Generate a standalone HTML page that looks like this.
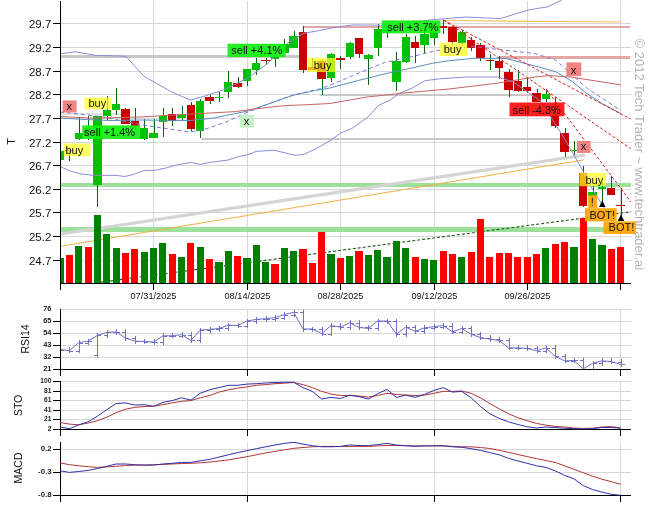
<!DOCTYPE html>
<html><head><meta charset="utf-8"><title>Chart</title>
<style>html,body{margin:0;padding:0;background:#fff;} svg{display:block;}</style></head>
<body><svg width="657" height="514" viewBox="0 0 657 514">
<rect width="657" height="514" fill="#fff"/>
<defs><clipPath id="cr"><rect x="61" y="300" width="570" height="69"/></clipPath></defs>
<g shape-rendering="crispEdges">
<line x1="60" y1="23.5" x2="631" y2="23.5" stroke="#d8d8d8" stroke-width="1"/>
<line x1="60" y1="47.5" x2="631" y2="47.5" stroke="#d8d8d8" stroke-width="1"/>
<line x1="60" y1="71.5" x2="631" y2="71.5" stroke="#d8d8d8" stroke-width="1"/>
<line x1="60" y1="94.5" x2="631" y2="94.5" stroke="#d8d8d8" stroke-width="1"/>
<line x1="60" y1="118.5" x2="631" y2="118.5" stroke="#d8d8d8" stroke-width="1"/>
<line x1="60" y1="142.5" x2="631" y2="142.5" stroke="#d8d8d8" stroke-width="1"/>
<line x1="60" y1="165.5" x2="631" y2="165.5" stroke="#d8d8d8" stroke-width="1"/>
<line x1="60" y1="189.5" x2="631" y2="189.5" stroke="#d8d8d8" stroke-width="1"/>
<line x1="60" y1="212.5" x2="631" y2="212.5" stroke="#d8d8d8" stroke-width="1"/>
<line x1="60" y1="236.5" x2="631" y2="236.5" stroke="#d8d8d8" stroke-width="1"/>
<line x1="60" y1="260.5" x2="631" y2="260.5" stroke="#d8d8d8" stroke-width="1"/>
<line x1="153.5" y1="1" x2="153.5" y2="283" stroke="#d8d8d8" stroke-width="1"/>
<line x1="247.5" y1="1" x2="247.5" y2="283" stroke="#d8d8d8" stroke-width="1"/>
<line x1="340.5" y1="1" x2="340.5" y2="283" stroke="#d8d8d8" stroke-width="1"/>
<line x1="434.5" y1="1" x2="434.5" y2="283" stroke="#d8d8d8" stroke-width="1"/>
<line x1="527.5" y1="1" x2="527.5" y2="283" stroke="#d8d8d8" stroke-width="1"/>
<line x1="620.5" y1="1" x2="620.5" y2="283" stroke="#d8d8d8" stroke-width="1"/>
</g>
<defs><clipPath id="cm"><rect x="61" y="0" width="570" height="283"/></clipPath></defs>
<g clip-path="url(#cm)">
<g shape-rendering="crispEdges">
<rect x="61.00" y="183.40" width="570.00" height="3.70" fill="#9ce09c"/>
<rect x="61.00" y="227.40" width="570.00" height="4.40" fill="#9ce09c"/>
<rect x="61.00" y="55.00" width="239.00" height="2.70" fill="#c8c8c8"/>
<rect x="61.00" y="112.60" width="60.00" height="2.50" fill="#e2e2e2"/>
<rect x="201.00" y="137.80" width="360.00" height="2.40" fill="#c8c8c8"/>
<rect x="320.00" y="93.70" width="215.00" height="2.50" fill="#c8c8c8"/>
<rect x="302.60" y="25.60" width="327.60" height="2.80" fill="#e4a8a8"/>
<rect x="500.00" y="55.90" width="130.20" height="2.90" fill="#e4a8a8"/>
</g>
<line x1="61" y1="234" x2="585" y2="155" stroke="#d4d4d4" stroke-width="3.2"/>
<line x1="61" y1="246.2" x2="584" y2="159.8" stroke="#f0b040" stroke-width="1"/>
<line x1="443" y1="20.5" x2="621" y2="22" stroke="#f0c060" stroke-width="1.2"/>
<line x1="100" y1="282.3" x2="631" y2="211.8" stroke="#1e5a1e" stroke-width="1.1" stroke-dasharray="3,2"/>
<g shape-rendering="crispEdges">
<rect x="56.50" y="258.00" width="7.20" height="25.00" fill="#008000"/>
<rect x="65.84" y="255.00" width="7.20" height="28.00" fill="#ff0000"/>
<rect x="75.18" y="246.00" width="7.20" height="37.00" fill="#008000"/>
<rect x="84.53" y="247.00" width="7.20" height="36.00" fill="#ff0000"/>
<rect x="93.87" y="215.10" width="7.20" height="67.90" fill="#008000"/>
<rect x="103.21" y="234.10" width="7.20" height="48.90" fill="#008000"/>
<rect x="112.55" y="248.00" width="7.20" height="35.00" fill="#008000"/>
<rect x="121.89" y="252.80" width="7.20" height="30.20" fill="#ff0000"/>
<rect x="131.24" y="249.00" width="7.20" height="34.00" fill="#ff0000"/>
<rect x="140.58" y="251.90" width="7.20" height="31.10" fill="#008000"/>
<rect x="149.92" y="248.00" width="7.20" height="35.00" fill="#008000"/>
<rect x="159.26" y="243.10" width="7.20" height="39.90" fill="#008000"/>
<rect x="168.60" y="254.00" width="7.20" height="29.00" fill="#ff0000"/>
<rect x="177.95" y="257.00" width="7.20" height="26.00" fill="#008000"/>
<rect x="187.29" y="243.10" width="7.20" height="39.90" fill="#ff0000"/>
<rect x="196.63" y="247.00" width="7.20" height="36.00" fill="#008000"/>
<rect x="205.97" y="259.20" width="7.20" height="23.80" fill="#ff0000"/>
<rect x="215.31" y="262.10" width="7.20" height="20.90" fill="#008000"/>
<rect x="224.66" y="251.10" width="7.20" height="31.90" fill="#008000"/>
<rect x="234.00" y="256.00" width="7.20" height="27.00" fill="#ff0000"/>
<rect x="243.34" y="258.00" width="7.20" height="25.00" fill="#008000"/>
<rect x="252.68" y="245.10" width="7.20" height="37.90" fill="#008000"/>
<rect x="262.02" y="262.10" width="7.20" height="20.90" fill="#008000"/>
<rect x="271.37" y="264.00" width="7.20" height="19.00" fill="#ff0000"/>
<rect x="280.71" y="248.20" width="7.20" height="34.80" fill="#008000"/>
<rect x="290.05" y="251.10" width="7.20" height="31.90" fill="#008000"/>
<rect x="299.39" y="249.20" width="7.20" height="33.80" fill="#ff0000"/>
<rect x="308.73" y="262.80" width="7.20" height="20.20" fill="#ff0000"/>
<rect x="318.08" y="231.70" width="7.20" height="51.30" fill="#ff0000"/>
<rect x="327.42" y="254.00" width="7.20" height="29.00" fill="#008000"/>
<rect x="336.76" y="258.00" width="7.20" height="25.00" fill="#ff0000"/>
<rect x="346.10" y="256.00" width="7.20" height="27.00" fill="#008000"/>
<rect x="355.44" y="251.10" width="7.20" height="31.90" fill="#ff0000"/>
<rect x="364.79" y="255.30" width="7.20" height="27.70" fill="#008000"/>
<rect x="374.13" y="249.90" width="7.20" height="33.10" fill="#008000"/>
<rect x="383.47" y="257.20" width="7.20" height="25.80" fill="#008000"/>
<rect x="392.81" y="240.90" width="7.20" height="42.10" fill="#008000"/>
<rect x="402.15" y="248.00" width="7.20" height="35.00" fill="#008000"/>
<rect x="411.50" y="257.20" width="7.20" height="25.80" fill="#ff0000"/>
<rect x="420.84" y="259.20" width="7.20" height="23.80" fill="#008000"/>
<rect x="430.18" y="260.20" width="7.20" height="22.80" fill="#008000"/>
<rect x="439.52" y="251.10" width="7.20" height="31.90" fill="#ff0000"/>
<rect x="448.86" y="254.00" width="7.20" height="29.00" fill="#ff0000"/>
<rect x="458.21" y="257.20" width="7.20" height="25.80" fill="#008000"/>
<rect x="467.55" y="251.90" width="7.20" height="31.10" fill="#ff0000"/>
<rect x="476.89" y="219.00" width="7.20" height="64.00" fill="#ff0000"/>
<rect x="486.23" y="257.20" width="7.20" height="25.80" fill="#ff0000"/>
<rect x="495.57" y="253.10" width="7.20" height="29.90" fill="#ff0000"/>
<rect x="504.92" y="253.10" width="7.20" height="29.90" fill="#ff0000"/>
<rect x="514.26" y="257.20" width="7.20" height="25.80" fill="#ff0000"/>
<rect x="523.60" y="257.20" width="7.20" height="25.80" fill="#ff0000"/>
<rect x="532.94" y="254.00" width="7.20" height="29.00" fill="#ff0000"/>
<rect x="542.28" y="248.00" width="7.20" height="35.00" fill="#008000"/>
<rect x="551.63" y="243.80" width="7.20" height="39.20" fill="#ff0000"/>
<rect x="560.97" y="241.90" width="7.20" height="41.10" fill="#ff0000"/>
<rect x="570.31" y="247.00" width="7.20" height="36.00" fill="#008000"/>
<rect x="579.65" y="217.80" width="7.20" height="65.20" fill="#ff0000"/>
<rect x="588.99" y="239.00" width="7.20" height="44.00" fill="#008000"/>
<rect x="598.34" y="245.10" width="7.20" height="37.90" fill="#008000"/>
<rect x="607.68" y="249.20" width="7.20" height="33.80" fill="#ff0000"/>
<rect x="617.02" y="247.00" width="7.20" height="36.00" fill="#ff0000"/>
</g>
<g shape-rendering="crispEdges">
<rect x="59.50" y="150.00" width="1.20" height="10.00" fill="#0a640a"/>
<rect x="55.90" y="151.00" width="8.40" height="8.50" fill="#06c006"/>
<rect x="68.50" y="150.00" width="1.20" height="11.30" fill="#0a640a"/>
<rect x="65.24" y="150.00" width="8.40" height="1.30" fill="#c80000"/>
<rect x="78.50" y="118.00" width="1.20" height="22.00" fill="#0a640a"/>
<rect x="74.58" y="133.40" width="8.40" height="5.60" fill="#06c006"/>
<rect x="87.50" y="116.00" width="1.20" height="24.00" fill="#0a640a"/>
<rect x="83.93" y="128.00" width="8.40" height="7.00" fill="#c80000"/>
<rect x="96.50" y="116.00" width="1.20" height="90.50" fill="#0a640a"/>
<rect x="93.27" y="116.00" width="8.40" height="69.00" fill="#06c006"/>
<rect x="106.50" y="96.00" width="1.20" height="24.00" fill="#0a640a"/>
<rect x="102.61" y="110.00" width="8.40" height="6.00" fill="#06c006"/>
<rect x="115.50" y="88.00" width="1.20" height="27.00" fill="#0a640a"/>
<rect x="111.95" y="104.00" width="8.40" height="6.00" fill="#06c006"/>
<rect x="124.50" y="108.00" width="1.20" height="16.00" fill="#0a640a"/>
<rect x="121.29" y="108.70" width="8.40" height="15.00" fill="#c80000"/>
<rect x="134.50" y="108.40" width="1.20" height="21.30" fill="#0a640a"/>
<rect x="130.64" y="120.60" width="8.40" height="4.90" fill="#c80000"/>
<rect x="143.50" y="118.80" width="1.20" height="21.00" fill="#0a640a"/>
<rect x="139.98" y="128.00" width="8.40" height="11.00" fill="#06c006"/>
<rect x="153.50" y="118.80" width="1.20" height="19.20" fill="#0a640a"/>
<rect x="149.32" y="133.00" width="8.40" height="5.00" fill="#06c006"/>
<rect x="162.50" y="108.40" width="1.20" height="28.10" fill="#0a640a"/>
<rect x="158.66" y="115.50" width="8.40" height="6.00" fill="#06c006"/>
<rect x="171.50" y="108.40" width="1.20" height="17.10" fill="#0a640a"/>
<rect x="168.00" y="114.20" width="8.40" height="6.40" fill="#c80000"/>
<rect x="181.50" y="106.00" width="1.20" height="14.70" fill="#0a640a"/>
<rect x="177.35" y="114.90" width="8.40" height="2.90" fill="#06c006"/>
<rect x="190.50" y="102.20" width="1.20" height="29.20" fill="#0a640a"/>
<rect x="186.69" y="105.10" width="8.40" height="23.40" fill="#c80000"/>
<rect x="199.50" y="99.30" width="1.20" height="38.90" fill="#0a640a"/>
<rect x="196.03" y="100.90" width="8.40" height="30.50" fill="#06c006"/>
<rect x="209.50" y="93.50" width="1.20" height="10.30" fill="#0a640a"/>
<rect x="205.37" y="97.00" width="8.40" height="3.70" fill="#c80000"/>
<rect x="218.50" y="91.50" width="1.20" height="10.30" fill="#0a640a"/>
<rect x="214.71" y="96.80" width="8.40" height="1.30" fill="#06c006"/>
<rect x="227.50" y="71.10" width="1.20" height="27.20" fill="#0a640a"/>
<rect x="224.06" y="81.80" width="8.40" height="10.30" fill="#06c006"/>
<rect x="237.50" y="77.00" width="1.20" height="10.60" fill="#0a640a"/>
<rect x="233.40" y="83.20" width="8.40" height="3.90" fill="#c80000"/>
<rect x="246.50" y="69.20" width="1.20" height="16.50" fill="#0a640a"/>
<rect x="242.74" y="69.20" width="8.40" height="11.60" fill="#06c006"/>
<rect x="255.50" y="57.50" width="1.20" height="17.10" fill="#0a640a"/>
<rect x="252.08" y="63.00" width="8.40" height="6.80" fill="#06c006"/>
<rect x="265.50" y="57.50" width="1.20" height="7.40" fill="#0a640a"/>
<rect x="261.42" y="59.80" width="8.40" height="1.30" fill="#c80000"/>
<rect x="274.50" y="57.10" width="1.20" height="10.10" fill="#0a640a"/>
<rect x="270.77" y="57.10" width="8.40" height="1.40" fill="#06c006"/>
<rect x="283.50" y="38.90" width="1.20" height="13.60" fill="#0a640a"/>
<rect x="280.11" y="43.80" width="8.40" height="8.70" fill="#06c006"/>
<rect x="293.50" y="31.10" width="1.20" height="16.50" fill="#0a640a"/>
<rect x="289.45" y="36.00" width="8.40" height="11.60" fill="#06c006"/>
<rect x="302.50" y="25.90" width="1.20" height="46.70" fill="#0a640a"/>
<rect x="298.79" y="32.10" width="8.40" height="37.60" fill="#c80000"/>
<rect x="311.50" y="58.00" width="1.20" height="12.00" fill="#0a640a"/>
<rect x="308.13" y="67.20" width="8.40" height="2.50" fill="#c80000"/>
<rect x="321.50" y="60.00" width="1.20" height="35.30" fill="#0a640a"/>
<rect x="317.48" y="61.00" width="8.40" height="17.60" fill="#c80000"/>
<rect x="330.50" y="53.10" width="1.20" height="28.70" fill="#0a640a"/>
<rect x="326.82" y="54.10" width="8.40" height="24.30" fill="#06c006"/>
<rect x="339.50" y="56.00" width="1.20" height="13.20" fill="#0a640a"/>
<rect x="336.16" y="58.20" width="8.40" height="1.30" fill="#c80000"/>
<rect x="349.50" y="41.80" width="1.20" height="16.90" fill="#0a640a"/>
<rect x="345.50" y="42.80" width="8.40" height="14.00" fill="#06c006"/>
<rect x="358.50" y="37.90" width="1.20" height="20.10" fill="#0a640a"/>
<rect x="354.84" y="37.90" width="8.40" height="15.60" fill="#c80000"/>
<rect x="367.50" y="53.50" width="1.20" height="31.10" fill="#0a640a"/>
<rect x="364.19" y="55.00" width="8.40" height="4.30" fill="#06c006"/>
<rect x="377.50" y="24.30" width="1.20" height="32.10" fill="#0a640a"/>
<rect x="373.53" y="29.20" width="8.40" height="18.40" fill="#06c006"/>
<rect x="386.50" y="29.20" width="1.20" height="8.80" fill="#0a640a"/>
<rect x="382.87" y="30.00" width="8.40" height="3.00" fill="#06c006"/>
<rect x="395.50" y="51.50" width="1.20" height="39.90" fill="#0a640a"/>
<rect x="392.21" y="61.30" width="8.40" height="20.40" fill="#06c006"/>
<rect x="405.50" y="33.60" width="1.20" height="29.60" fill="#0a640a"/>
<rect x="401.55" y="37.10" width="8.40" height="24.60" fill="#06c006"/>
<rect x="414.50" y="35.90" width="1.20" height="26.60" fill="#0a640a"/>
<rect x="410.90" y="42.00" width="8.40" height="6.40" fill="#c80000"/>
<rect x="423.50" y="31.30" width="1.20" height="21.30" fill="#0a640a"/>
<rect x="420.24" y="33.60" width="8.40" height="11.10" fill="#06c006"/>
<rect x="433.50" y="26.30" width="1.20" height="18.40" fill="#0a640a"/>
<rect x="429.58" y="31.50" width="8.40" height="6.40" fill="#06c006"/>
<rect x="442.50" y="20.10" width="1.20" height="14.00" fill="#0a640a"/>
<rect x="438.92" y="25.60" width="8.40" height="2.30" fill="#c80000"/>
<rect x="451.50" y="26.00" width="1.20" height="19.00" fill="#0a640a"/>
<rect x="448.26" y="26.80" width="8.40" height="15.10" fill="#c80000"/>
<rect x="461.50" y="30.00" width="1.20" height="16.00" fill="#0a640a"/>
<rect x="457.61" y="31.80" width="8.40" height="10.90" fill="#06c006"/>
<rect x="470.50" y="36.50" width="1.20" height="14.80" fill="#0a640a"/>
<rect x="466.95" y="40.10" width="8.40" height="8.10" fill="#c80000"/>
<rect x="479.50" y="42.70" width="1.20" height="18.70" fill="#0a640a"/>
<rect x="476.29" y="45.00" width="8.40" height="12.50" fill="#c80000"/>
<rect x="489.50" y="54.40" width="1.20" height="15.60" fill="#0a640a"/>
<rect x="485.63" y="59.60" width="8.40" height="1.30" fill="#c80000"/>
<rect x="498.50" y="56.00" width="1.20" height="22.50" fill="#0a640a"/>
<rect x="494.97" y="61.10" width="8.40" height="6.50" fill="#c80000"/>
<rect x="508.50" y="69.20" width="1.20" height="27.30" fill="#0a640a"/>
<rect x="504.32" y="72.00" width="8.40" height="18.00" fill="#c80000"/>
<rect x="517.50" y="69.50" width="1.20" height="22.70" fill="#0a640a"/>
<rect x="513.66" y="80.90" width="8.40" height="9.60" fill="#c80000"/>
<rect x="526.50" y="78.40" width="1.20" height="14.90" fill="#0a640a"/>
<rect x="523.00" y="86.80" width="8.40" height="3.70" fill="#c80000"/>
<rect x="536.50" y="88.60" width="1.20" height="13.20" fill="#0a640a"/>
<rect x="532.34" y="93.30" width="8.40" height="8.50" fill="#c80000"/>
<rect x="545.50" y="89.00" width="1.20" height="12.80" fill="#0a640a"/>
<rect x="541.68" y="93.70" width="8.40" height="4.90" fill="#06c006"/>
<rect x="554.50" y="96.50" width="1.20" height="31.30" fill="#0a640a"/>
<rect x="551.03" y="115.60" width="8.40" height="10.70" fill="#c80000"/>
<rect x="564.50" y="128.00" width="1.20" height="29.20" fill="#0a640a"/>
<rect x="560.37" y="133.20" width="8.40" height="18.70" fill="#c80000"/>
<rect x="573.50" y="141.40" width="1.20" height="14.00" fill="#0a640a"/>
<rect x="569.71" y="149.50" width="8.40" height="1.70" fill="#06c006"/>
<rect x="582.50" y="165.90" width="1.20" height="40.90" fill="#0a640a"/>
<rect x="579.05" y="173.00" width="8.40" height="32.60" fill="#c80000"/>
<rect x="592.50" y="185.70" width="1.20" height="11.70" fill="#0a640a"/>
<rect x="588.39" y="191.60" width="8.40" height="4.70" fill="#06c006"/>
<rect x="601.50" y="182.20" width="1.20" height="19.90" fill="#0a640a"/>
<rect x="597.74" y="186.90" width="8.40" height="2.40" fill="#06c006"/>
<rect x="610.50" y="176.40" width="1.20" height="18.70" fill="#0a640a"/>
<rect x="607.08" y="188.10" width="8.40" height="6.50" fill="#c80000"/>
<rect x="620.50" y="188.10" width="1.20" height="30.40" fill="#0a640a"/>
<rect x="616.42" y="205.00" width="8.40" height="1.30" fill="#c80000"/>
</g>
<polyline points="60.0,53.8 75.0,51.8 96.3,55.4 122.0,56.0 126.5,57.0 144.0,76.3 171.4,91.8 190.0,100.0 203.7,96.5 224.2,89.7 247.1,78.3 258.5,70.3 267.6,63.4 287.0,43.5 303.8,33.3 319.5,30.5 334.0,27.5 353.1,24.9 377.5,25.1 386.7,25.7 410.0,22.5 433.5,19.6 466.2,17.0 500.4,18.6 527.0,10.3 540.0,8.0 547.0,7.0 559.0,1.4 563.0,-1.0" fill="none" stroke="#8c8cd8" stroke-width="1"/>
<polyline points="60.0,166.5 70.0,171.0 81.0,174.0 93.0,175.3 116.0,175.4 125.1,176.5 134.2,174.2 144.5,170.4 154.8,170.4 166.2,167.9 177.6,164.7 191.3,162.4 200.5,164.4 209.6,162.4 227.9,160.1 239.3,156.4 250.0,154.2 256.0,151.4 274.2,150.2 294.8,155.3 303.9,154.3 315.3,149.1 331.3,140.0 340.5,133.1 351.9,128.5 367.9,117.1 378.1,105.7 390.0,100.0 399.4,93.4 412.2,88.0 425.0,80.7 439.6,78.8 466.2,77.0 497.3,77.0 512.9,81.7 541.0,101.4 565.3,140.0 583.0,171.0 590.2,185.7 601.0,202.8 621.0,233.0" fill="none" stroke="#8c8cd8" stroke-width="1"/>
<polyline points="60.0,111.9 99.8,116.4 144.5,125.3 189.3,132.0 203.7,129.6 224.2,122.8 247.1,112.4 269.9,103.4 292.7,95.0 321.7,88.5 343.0,79.8 368.4,69.0 384.8,62.4 393.9,60.6 412.2,56.6 435.9,50.5 474.0,46.6 535.0,53.6 555.6,60.0 587.7,88.8 621.0,110.6" fill="none" stroke="#7878d8" stroke-width="1" stroke-dasharray="4,3"/>
<polyline points="60.0,118.0 85.0,119.5 110.0,120.5 140.0,120.0 190.0,120.5 212.8,118.2 247.1,111.2 269.9,103.4 292.7,95.4 315.6,90.4 330.0,88.0 357.4,80.7 388.4,73.0 412.2,67.9 432.3,63.3 450.0,60.6 474.0,58.3 505.0,58.3 535.0,66.0 555.6,71.7 572.7,81.8 586.7,93.5 602.3,103.6 621.0,113.7" fill="none" stroke="#5a8ec0" stroke-width="1"/>
<polyline points="60.0,116.5 93.0,118.2 140.0,117.0 190.0,114.1 235.7,111.6 255.0,109.0 270.2,107.1 285.4,105.6 305.0,104.8 330.0,103.5 366.5,97.1 403.1,93.1 450.0,88.9 497.3,83.2 535.0,77.0 549.3,75.6 571.2,77.1 621.0,84.9" fill="none" stroke="#c86464" stroke-width="1"/>
<line x1="443.6" y1="20.1" x2="630.5" y2="148.5" stroke="#e02020" stroke-width="1" stroke-dasharray="3,2"/>
<line x1="443.6" y1="20.1" x2="630.5" y2="119" stroke="#e02020" stroke-width="1" stroke-dasharray="3,2"/>
<line x1="546" y1="89" x2="631" y2="202" stroke="#e02020" stroke-width="1" stroke-dasharray="3,2"/>
</g>
<g font-family="'Liberation Sans', Arial, sans-serif">
<rect x="62.6" y="100.4" width="14" height="12.1" fill="#f07878" fill-opacity="0.9"/>
<text x="69.3" y="109.9" font-size="11" text-anchor="middle" fill="#111">x</text>
<rect x="84.4" y="97.6" width="26.8" height="11.8" fill="#ffff20" fill-opacity="0.72"/>
<text x="88.4" y="106.8" font-size="11" fill="#111">buy</text>
<rect x="82.2" y="125.4" width="58" height="13.6" fill="#10f010" fill-opacity="0.92"/>
<text x="84.1" y="136.4" font-size="11" fill="#111">sell +1.4%</text>
<rect x="63.8" y="143.5" width="26.6" height="12.8" fill="#ffff20" fill-opacity="0.72"/>
<text x="65.4" y="153.7" font-size="11" fill="#111">buy</text>
<rect x="239.9" y="114.9" width="14" height="12.6" fill="#c0f0c0" fill-opacity="0.9"/>
<text x="246.6" y="124.9" font-size="11" text-anchor="middle" fill="#111">x</text>
<rect x="227.5" y="43.7" width="58.1" height="13.3" fill="#10f010" fill-opacity="0.92"/>
<text x="231.3" y="54.4" font-size="11" fill="#111">sell +4.1%</text>
<rect x="308.1" y="58" width="27.6" height="14" fill="#ffff20" fill-opacity="0.72"/>
<text x="313.7" y="69.4" font-size="11" fill="#111">buy</text>
<rect x="381.8" y="20.4" width="58.6" height="12.9" fill="#10f010" fill-opacity="0.92"/>
<text x="387.3" y="30.7" font-size="11" fill="#111">sell +3.7%</text>
<rect x="439.7" y="42.7" width="27.4" height="13.3" fill="#ffff20" fill-opacity="0.72"/>
<text x="443.7" y="53.4" font-size="11" fill="#111">buy</text>
<rect x="566.4" y="62.4" width="14.9" height="13.8" fill="#f07878" fill-opacity="0.9"/>
<text x="573.6" y="73.6" font-size="11" text-anchor="middle" fill="#111">x</text>
<rect x="509.5" y="102.5" width="54.9" height="13.8" fill="#ff0000" fill-opacity="0.88"/>
<text x="512.6" y="113.7" font-size="11" fill="#111">sell -4.3%</text>
<rect x="577" y="140.9" width="13.6" height="12.1" fill="#f07878" fill-opacity="0.9"/>
<text x="583.5" y="150.4" font-size="11" text-anchor="middle" fill="#111">x</text>
<rect x="579.4" y="172.9" width="26.4" height="13.3" fill="#ffff20" fill-opacity="0.72"/>
<text x="585.4" y="183.6" font-size="11" fill="#111">buy</text>
<rect x="588.2" y="195.2" width="9" height="13" fill="#ffa500" fill-opacity="0.92"/>
<text x="592.4" y="205.6" font-size="11" text-anchor="middle" fill="#111">!</text>
<rect x="584.9" y="208.2" width="31.8" height="13.2" fill="#ffa500" fill-opacity="0.92"/>
<text x="589.4" y="218.8" font-size="11" fill="#111">BOT!</text>
<rect x="603.5" y="221.4" width="32.5" height="12.6" fill="#ffa500" fill-opacity="0.92"/>
<text x="608.6" y="231.4" font-size="11" fill="#111">BOT!</text>
</g>
<polygon points="602.3,200.5 599,207 605.6,207" fill="#000"/>
<polygon points="621,214.5 617.7,221 624.3,221" fill="#000"/>
<g shape-rendering="crispEdges">
<line x1="60.5" y1="1" x2="60.5" y2="290" stroke="#000" stroke-width="1"/>
<line x1="60" y1="283.5" x2="631" y2="283.5" stroke="#000" stroke-width="1"/>
<line x1="53" y1="23.5" x2="60" y2="23.5" stroke="#000" stroke-width="1"/>
<line x1="53" y1="47.5" x2="60" y2="47.5" stroke="#000" stroke-width="1"/>
<line x1="53" y1="71.5" x2="60" y2="71.5" stroke="#000" stroke-width="1"/>
<line x1="53" y1="94.5" x2="60" y2="94.5" stroke="#000" stroke-width="1"/>
<line x1="53" y1="118.5" x2="60" y2="118.5" stroke="#000" stroke-width="1"/>
<line x1="53" y1="142.5" x2="60" y2="142.5" stroke="#000" stroke-width="1"/>
<line x1="53" y1="165.5" x2="60" y2="165.5" stroke="#000" stroke-width="1"/>
<line x1="53" y1="189.5" x2="60" y2="189.5" stroke="#000" stroke-width="1"/>
<line x1="53" y1="212.5" x2="60" y2="212.5" stroke="#000" stroke-width="1"/>
<line x1="53" y1="236.5" x2="60" y2="236.5" stroke="#000" stroke-width="1"/>
<line x1="53" y1="260.5" x2="60" y2="260.5" stroke="#000" stroke-width="1"/>
<line x1="153.5" y1="283" x2="153.5" y2="290" stroke="#000" stroke-width="1"/>
<line x1="247.5" y1="283" x2="247.5" y2="290" stroke="#000" stroke-width="1"/>
<line x1="340.5" y1="283" x2="340.5" y2="290" stroke="#000" stroke-width="1"/>
<line x1="434.5" y1="283" x2="434.5" y2="290" stroke="#000" stroke-width="1"/>
<line x1="527.5" y1="283" x2="527.5" y2="290" stroke="#000" stroke-width="1"/>
<line x1="620.5" y1="283" x2="620.5" y2="290" stroke="#000" stroke-width="1"/>
</g>
<g font-family="'Liberation Sans', Arial, sans-serif" font-size="11.5" fill="#111" text-anchor="end">
<text x="51.3" y="27.6">29.7</text>
<text x="51.3" y="51.6">29.2</text>
<text x="51.3" y="75.6">28.7</text>
<text x="51.3" y="98.6">28.2</text>
<text x="51.3" y="122.6">27.7</text>
<text x="51.3" y="146.6">27.2</text>
<text x="51.3" y="169.6">26.7</text>
<text x="51.3" y="193.6">26.2</text>
<text x="51.3" y="216.6">25.7</text>
<text x="51.3" y="240.6">25.2</text>
<text x="51.3" y="264.6">24.7</text>
</g>
<text font-family="'Liberation Sans', Arial, sans-serif" font-size="11" fill="#111" transform="translate(15.2,141.5) rotate(-90)" text-anchor="middle">T</text>
<g font-family="'Liberation Sans', Arial, sans-serif" font-size="9.2" fill="#111" text-anchor="middle">
<text x="153.5" y="299.2">07/31/2025</text>
<text x="247.5" y="299.2">08/14/2025</text>
<text x="340.5" y="299.2">08/28/2025</text>
<text x="434.5" y="299.2">09/12/2025</text>
<text x="527.5" y="299.2">09/26/2025</text>
</g>
<g shape-rendering="crispEdges">
<line x1="61" y1="309.5" x2="631" y2="309.5" stroke="#d8d8d8" stroke-width="1"/>
<line x1="61" y1="321.5" x2="631" y2="321.5" stroke="#d8d8d8" stroke-width="1"/>
<line x1="61" y1="333.5" x2="631" y2="333.5" stroke="#d8d8d8" stroke-width="1"/>
<line x1="61" y1="345.5" x2="631" y2="345.5" stroke="#d8d8d8" stroke-width="1"/>
<line x1="61" y1="357.5" x2="631" y2="357.5" stroke="#d8d8d8" stroke-width="1"/>
<line x1="247.5" y1="309" x2="247.5" y2="369" stroke="#d8d8d8" stroke-width="1"/>
<line x1="247.5" y1="369" x2="247.5" y2="375.5" stroke="#000" stroke-width="1"/>
<line x1="434.5" y1="309" x2="434.5" y2="369" stroke="#d8d8d8" stroke-width="1"/>
<line x1="434.5" y1="369" x2="434.5" y2="375.5" stroke="#000" stroke-width="1"/>
<line x1="620.5" y1="309" x2="620.5" y2="369" stroke="#d8d8d8" stroke-width="1"/>
<line x1="620.5" y1="369" x2="620.5" y2="375.5" stroke="#000" stroke-width="1"/>
<line x1="60.5" y1="309" x2="60.5" y2="375.5" stroke="#000" stroke-width="1"/>
<line x1="60" y1="369.5" x2="631" y2="369.5" stroke="#000" stroke-width="1"/>
</g>
<g shape-rendering="crispEdges">
<line x1="53" y1="321.5" x2="60" y2="321.5" stroke="#000" stroke-width="1"/>
<line x1="53" y1="333.5" x2="60" y2="333.5" stroke="#000" stroke-width="1"/>
<line x1="53" y1="345.5" x2="60" y2="345.5" stroke="#000" stroke-width="1"/>
<line x1="53" y1="357.5" x2="60" y2="357.5" stroke="#000" stroke-width="1"/>
<line x1="53" y1="369.5" x2="60" y2="369.5" stroke="#000" stroke-width="1"/>
</g>
<g font-family="'Liberation Sans', Arial, sans-serif" font-size="7.8" font-weight="bold" fill="#222" text-anchor="end" transform="translate(51.5,0) scale(0.95,1) translate(-51.5,0)">
<text x="51.5" y="311.2">76</text>
<text x="51.5" y="323.2">65</text>
<text x="51.5" y="335.2">54</text>
<text x="51.5" y="347.2">43</text>
<text x="51.5" y="359.2">32</text>
<text x="51.5" y="371.2">21</text>
</g>
<text font-family="'Liberation Sans', Arial, sans-serif" font-size="10.5" fill="#111" transform="translate(28.5,339) rotate(-90)" text-anchor="middle">RSI14</text>
<g clip-path="url(#cr)">
<polyline points="60.1,349.5 69.4,350.7 78.8,342.7 88.1,341.1 97.5,335.4 106.8,332.4 116.2,331.9 125.5,338.1 134.8,341.1 144.2,341.5 153.5,342.0 162.9,335.8 172.2,335.8 181.5,334.7 190.9,340.4 200.2,330.1 209.6,329.4 218.9,328.5 228.3,325.1 237.6,325.5 246.9,321.0 256.3,319.4 265.6,318.7 275.0,317.6 284.3,314.6 293.7,312.3 303.0,329.0 312.3,329.0 321.7,333.5 331.0,325.5 340.4,327.1 349.7,322.8 359.0,327.4 368.4,328.5 377.7,321.0 387.1,321.0 396.4,334.2 405.8,327.1 415.1,331.3 424.4,327.8 433.8,326.7 443.1,325.5 452.5,331.9 461.8,328.5 471.1,334.2 480.5,337.6 489.8,339.2 499.2,340.4 508.5,347.9 517.9,347.9 527.2,348.4 536.5,350.7 545.9,347.9 555.2,356.4 564.6,360.9 573.9,360.5 583.3,368.9 592.6,363.2 601.9,360.9 611.3,361.6 620.6,364.4" fill="none" stroke="#7070c8" stroke-width="1"/>
<g shape-rendering="crispEdges">
<line x1="60.5" y1="347.0" x2="60.5" y2="353.0" stroke="#7070c8" stroke-width="1"/>
<line x1="57.0" y1="350.5" x2="60.5" y2="350.5" stroke="#7070c8" stroke-width="1"/>
<line x1="60.5" y1="350.5" x2="64.0" y2="350.5" stroke="#7070c8" stroke-width="1"/>
<line x1="69.5" y1="347.0" x2="69.5" y2="353.2" stroke="#7070c8" stroke-width="1"/>
<line x1="66.0" y1="350.5" x2="69.5" y2="350.5" stroke="#7070c8" stroke-width="1"/>
<line x1="69.5" y1="351.5" x2="73.0" y2="351.5" stroke="#7070c8" stroke-width="1"/>
<line x1="79.5" y1="340.2" x2="79.5" y2="353.2" stroke="#7070c8" stroke-width="1"/>
<line x1="76.0" y1="351.5" x2="79.5" y2="351.5" stroke="#7070c8" stroke-width="1"/>
<line x1="79.5" y1="343.5" x2="83.0" y2="343.5" stroke="#7070c8" stroke-width="1"/>
<line x1="88.5" y1="338.6" x2="88.5" y2="345.2" stroke="#7070c8" stroke-width="1"/>
<line x1="85.0" y1="343.5" x2="88.5" y2="343.5" stroke="#7070c8" stroke-width="1"/>
<line x1="88.5" y1="341.5" x2="92.0" y2="341.5" stroke="#7070c8" stroke-width="1"/>
<line x1="97.5" y1="332.9" x2="97.5" y2="357.8" stroke="#7070c8" stroke-width="1"/>
<line x1="94.0" y1="355.5" x2="97.5" y2="355.5" stroke="#7070c8" stroke-width="1"/>
<line x1="97.5" y1="335.5" x2="101.0" y2="335.5" stroke="#7070c8" stroke-width="1"/>
<line x1="107.5" y1="329.9" x2="107.5" y2="337.9" stroke="#7070c8" stroke-width="1"/>
<line x1="104.0" y1="335.5" x2="107.5" y2="335.5" stroke="#7070c8" stroke-width="1"/>
<line x1="107.5" y1="332.5" x2="111.0" y2="332.5" stroke="#7070c8" stroke-width="1"/>
<line x1="116.5" y1="329.4" x2="116.5" y2="334.9" stroke="#7070c8" stroke-width="1"/>
<line x1="113.0" y1="332.5" x2="116.5" y2="332.5" stroke="#7070c8" stroke-width="1"/>
<line x1="116.5" y1="332.5" x2="120.0" y2="332.5" stroke="#7070c8" stroke-width="1"/>
<line x1="125.5" y1="329.4" x2="125.5" y2="340.6" stroke="#7070c8" stroke-width="1"/>
<line x1="122.0" y1="332.5" x2="125.5" y2="332.5" stroke="#7070c8" stroke-width="1"/>
<line x1="125.5" y1="338.5" x2="129.0" y2="338.5" stroke="#7070c8" stroke-width="1"/>
<line x1="135.5" y1="335.6" x2="135.5" y2="343.6" stroke="#7070c8" stroke-width="1"/>
<line x1="132.0" y1="338.5" x2="135.5" y2="338.5" stroke="#7070c8" stroke-width="1"/>
<line x1="135.5" y1="341.5" x2="139.0" y2="341.5" stroke="#7070c8" stroke-width="1"/>
<line x1="144.5" y1="338.6" x2="144.5" y2="344.0" stroke="#7070c8" stroke-width="1"/>
<line x1="141.0" y1="341.5" x2="144.5" y2="341.5" stroke="#7070c8" stroke-width="1"/>
<line x1="144.5" y1="342.5" x2="148.0" y2="342.5" stroke="#7070c8" stroke-width="1"/>
<line x1="154.5" y1="339.0" x2="154.5" y2="344.5" stroke="#7070c8" stroke-width="1"/>
<line x1="151.0" y1="342.5" x2="154.5" y2="342.5" stroke="#7070c8" stroke-width="1"/>
<line x1="154.5" y1="342.5" x2="158.0" y2="342.5" stroke="#7070c8" stroke-width="1"/>
<line x1="163.5" y1="333.3" x2="163.5" y2="344.5" stroke="#7070c8" stroke-width="1"/>
<line x1="160.0" y1="342.5" x2="163.5" y2="342.5" stroke="#7070c8" stroke-width="1"/>
<line x1="163.5" y1="336.5" x2="167.0" y2="336.5" stroke="#7070c8" stroke-width="1"/>
<line x1="172.5" y1="333.3" x2="172.5" y2="338.3" stroke="#7070c8" stroke-width="1"/>
<line x1="169.0" y1="336.5" x2="172.5" y2="336.5" stroke="#7070c8" stroke-width="1"/>
<line x1="172.5" y1="336.5" x2="176.0" y2="336.5" stroke="#7070c8" stroke-width="1"/>
<line x1="182.5" y1="332.2" x2="182.5" y2="338.3" stroke="#7070c8" stroke-width="1"/>
<line x1="179.0" y1="336.5" x2="182.5" y2="336.5" stroke="#7070c8" stroke-width="1"/>
<line x1="182.5" y1="335.5" x2="186.0" y2="335.5" stroke="#7070c8" stroke-width="1"/>
<line x1="191.5" y1="332.2" x2="191.5" y2="342.9" stroke="#7070c8" stroke-width="1"/>
<line x1="188.0" y1="335.5" x2="191.5" y2="335.5" stroke="#7070c8" stroke-width="1"/>
<line x1="191.5" y1="340.5" x2="195.0" y2="340.5" stroke="#7070c8" stroke-width="1"/>
<line x1="200.5" y1="327.6" x2="200.5" y2="342.9" stroke="#7070c8" stroke-width="1"/>
<line x1="197.0" y1="340.5" x2="200.5" y2="340.5" stroke="#7070c8" stroke-width="1"/>
<line x1="200.5" y1="330.5" x2="204.0" y2="330.5" stroke="#7070c8" stroke-width="1"/>
<line x1="210.5" y1="326.9" x2="210.5" y2="332.6" stroke="#7070c8" stroke-width="1"/>
<line x1="207.0" y1="330.5" x2="210.5" y2="330.5" stroke="#7070c8" stroke-width="1"/>
<line x1="210.5" y1="329.5" x2="214.0" y2="329.5" stroke="#7070c8" stroke-width="1"/>
<line x1="219.5" y1="326.0" x2="219.5" y2="331.9" stroke="#7070c8" stroke-width="1"/>
<line x1="216.0" y1="329.5" x2="219.5" y2="329.5" stroke="#7070c8" stroke-width="1"/>
<line x1="219.5" y1="328.5" x2="223.0" y2="328.5" stroke="#7070c8" stroke-width="1"/>
<line x1="228.5" y1="322.6" x2="228.5" y2="331.0" stroke="#7070c8" stroke-width="1"/>
<line x1="225.0" y1="328.5" x2="228.5" y2="328.5" stroke="#7070c8" stroke-width="1"/>
<line x1="228.5" y1="325.5" x2="232.0" y2="325.5" stroke="#7070c8" stroke-width="1"/>
<line x1="238.5" y1="322.6" x2="238.5" y2="328.0" stroke="#7070c8" stroke-width="1"/>
<line x1="235.0" y1="325.5" x2="238.5" y2="325.5" stroke="#7070c8" stroke-width="1"/>
<line x1="238.5" y1="326.5" x2="242.0" y2="326.5" stroke="#7070c8" stroke-width="1"/>
<line x1="247.5" y1="318.5" x2="247.5" y2="328.0" stroke="#7070c8" stroke-width="1"/>
<line x1="244.0" y1="326.5" x2="247.5" y2="326.5" stroke="#7070c8" stroke-width="1"/>
<line x1="247.5" y1="321.5" x2="251.0" y2="321.5" stroke="#7070c8" stroke-width="1"/>
<line x1="256.5" y1="316.9" x2="256.5" y2="323.5" stroke="#7070c8" stroke-width="1"/>
<line x1="253.0" y1="321.5" x2="256.5" y2="321.5" stroke="#7070c8" stroke-width="1"/>
<line x1="256.5" y1="319.5" x2="260.0" y2="319.5" stroke="#7070c8" stroke-width="1"/>
<line x1="266.5" y1="316.2" x2="266.5" y2="321.9" stroke="#7070c8" stroke-width="1"/>
<line x1="263.0" y1="319.5" x2="266.5" y2="319.5" stroke="#7070c8" stroke-width="1"/>
<line x1="266.5" y1="319.5" x2="270.0" y2="319.5" stroke="#7070c8" stroke-width="1"/>
<line x1="275.5" y1="315.1" x2="275.5" y2="321.2" stroke="#7070c8" stroke-width="1"/>
<line x1="272.0" y1="319.5" x2="275.5" y2="319.5" stroke="#7070c8" stroke-width="1"/>
<line x1="275.5" y1="318.5" x2="279.0" y2="318.5" stroke="#7070c8" stroke-width="1"/>
<line x1="284.5" y1="312.1" x2="284.5" y2="320.1" stroke="#7070c8" stroke-width="1"/>
<line x1="281.0" y1="318.5" x2="284.5" y2="318.5" stroke="#7070c8" stroke-width="1"/>
<line x1="284.5" y1="315.5" x2="288.0" y2="315.5" stroke="#7070c8" stroke-width="1"/>
<line x1="294.5" y1="309.8" x2="294.5" y2="317.1" stroke="#7070c8" stroke-width="1"/>
<line x1="291.0" y1="315.5" x2="294.5" y2="315.5" stroke="#7070c8" stroke-width="1"/>
<line x1="294.5" y1="312.5" x2="298.0" y2="312.5" stroke="#7070c8" stroke-width="1"/>
<line x1="303.5" y1="309.8" x2="303.5" y2="331.5" stroke="#7070c8" stroke-width="1"/>
<line x1="300.0" y1="312.5" x2="303.5" y2="312.5" stroke="#7070c8" stroke-width="1"/>
<line x1="303.5" y1="329.5" x2="307.0" y2="329.5" stroke="#7070c8" stroke-width="1"/>
<line x1="312.5" y1="326.5" x2="312.5" y2="331.5" stroke="#7070c8" stroke-width="1"/>
<line x1="309.0" y1="329.5" x2="312.5" y2="329.5" stroke="#7070c8" stroke-width="1"/>
<line x1="312.5" y1="329.5" x2="316.0" y2="329.5" stroke="#7070c8" stroke-width="1"/>
<line x1="322.5" y1="326.5" x2="322.5" y2="336.0" stroke="#7070c8" stroke-width="1"/>
<line x1="319.0" y1="329.5" x2="322.5" y2="329.5" stroke="#7070c8" stroke-width="1"/>
<line x1="322.5" y1="334.5" x2="326.0" y2="334.5" stroke="#7070c8" stroke-width="1"/>
<line x1="331.5" y1="323.0" x2="331.5" y2="336.0" stroke="#7070c8" stroke-width="1"/>
<line x1="328.0" y1="334.5" x2="331.5" y2="334.5" stroke="#7070c8" stroke-width="1"/>
<line x1="331.5" y1="326.5" x2="335.0" y2="326.5" stroke="#7070c8" stroke-width="1"/>
<line x1="340.5" y1="323.0" x2="340.5" y2="329.6" stroke="#7070c8" stroke-width="1"/>
<line x1="337.0" y1="326.5" x2="340.5" y2="326.5" stroke="#7070c8" stroke-width="1"/>
<line x1="340.5" y1="327.5" x2="344.0" y2="327.5" stroke="#7070c8" stroke-width="1"/>
<line x1="350.5" y1="320.3" x2="350.5" y2="329.6" stroke="#7070c8" stroke-width="1"/>
<line x1="347.0" y1="327.5" x2="350.5" y2="327.5" stroke="#7070c8" stroke-width="1"/>
<line x1="350.5" y1="323.5" x2="354.0" y2="323.5" stroke="#7070c8" stroke-width="1"/>
<line x1="359.5" y1="320.3" x2="359.5" y2="329.9" stroke="#7070c8" stroke-width="1"/>
<line x1="356.0" y1="323.5" x2="359.5" y2="323.5" stroke="#7070c8" stroke-width="1"/>
<line x1="359.5" y1="327.5" x2="363.0" y2="327.5" stroke="#7070c8" stroke-width="1"/>
<line x1="368.5" y1="324.9" x2="368.5" y2="331.0" stroke="#7070c8" stroke-width="1"/>
<line x1="365.0" y1="327.5" x2="368.5" y2="327.5" stroke="#7070c8" stroke-width="1"/>
<line x1="368.5" y1="328.5" x2="372.0" y2="328.5" stroke="#7070c8" stroke-width="1"/>
<line x1="378.5" y1="318.5" x2="378.5" y2="331.0" stroke="#7070c8" stroke-width="1"/>
<line x1="375.0" y1="328.5" x2="378.5" y2="328.5" stroke="#7070c8" stroke-width="1"/>
<line x1="378.5" y1="321.5" x2="382.0" y2="321.5" stroke="#7070c8" stroke-width="1"/>
<line x1="387.5" y1="318.5" x2="387.5" y2="323.5" stroke="#7070c8" stroke-width="1"/>
<line x1="384.0" y1="321.5" x2="387.5" y2="321.5" stroke="#7070c8" stroke-width="1"/>
<line x1="387.5" y1="321.5" x2="391.0" y2="321.5" stroke="#7070c8" stroke-width="1"/>
<line x1="396.5" y1="318.5" x2="396.5" y2="336.7" stroke="#7070c8" stroke-width="1"/>
<line x1="393.0" y1="321.5" x2="396.5" y2="321.5" stroke="#7070c8" stroke-width="1"/>
<line x1="396.5" y1="334.5" x2="400.0" y2="334.5" stroke="#7070c8" stroke-width="1"/>
<line x1="406.5" y1="324.6" x2="406.5" y2="336.7" stroke="#7070c8" stroke-width="1"/>
<line x1="403.0" y1="334.5" x2="406.5" y2="334.5" stroke="#7070c8" stroke-width="1"/>
<line x1="406.5" y1="327.5" x2="410.0" y2="327.5" stroke="#7070c8" stroke-width="1"/>
<line x1="415.5" y1="324.6" x2="415.5" y2="333.8" stroke="#7070c8" stroke-width="1"/>
<line x1="412.0" y1="327.5" x2="415.5" y2="327.5" stroke="#7070c8" stroke-width="1"/>
<line x1="415.5" y1="331.5" x2="419.0" y2="331.5" stroke="#7070c8" stroke-width="1"/>
<line x1="424.5" y1="325.3" x2="424.5" y2="333.8" stroke="#7070c8" stroke-width="1"/>
<line x1="421.0" y1="331.5" x2="424.5" y2="331.5" stroke="#7070c8" stroke-width="1"/>
<line x1="424.5" y1="328.5" x2="428.0" y2="328.5" stroke="#7070c8" stroke-width="1"/>
<line x1="434.5" y1="324.2" x2="434.5" y2="330.3" stroke="#7070c8" stroke-width="1"/>
<line x1="431.0" y1="328.5" x2="434.5" y2="328.5" stroke="#7070c8" stroke-width="1"/>
<line x1="434.5" y1="327.5" x2="438.0" y2="327.5" stroke="#7070c8" stroke-width="1"/>
<line x1="443.5" y1="323.0" x2="443.5" y2="329.2" stroke="#7070c8" stroke-width="1"/>
<line x1="440.0" y1="327.5" x2="443.5" y2="327.5" stroke="#7070c8" stroke-width="1"/>
<line x1="443.5" y1="326.5" x2="447.0" y2="326.5" stroke="#7070c8" stroke-width="1"/>
<line x1="452.5" y1="323.0" x2="452.5" y2="334.4" stroke="#7070c8" stroke-width="1"/>
<line x1="449.0" y1="326.5" x2="452.5" y2="326.5" stroke="#7070c8" stroke-width="1"/>
<line x1="452.5" y1="332.5" x2="456.0" y2="332.5" stroke="#7070c8" stroke-width="1"/>
<line x1="462.5" y1="326.0" x2="462.5" y2="334.4" stroke="#7070c8" stroke-width="1"/>
<line x1="459.0" y1="332.5" x2="462.5" y2="332.5" stroke="#7070c8" stroke-width="1"/>
<line x1="462.5" y1="328.5" x2="466.0" y2="328.5" stroke="#7070c8" stroke-width="1"/>
<line x1="471.5" y1="326.0" x2="471.5" y2="336.7" stroke="#7070c8" stroke-width="1"/>
<line x1="468.0" y1="328.5" x2="471.5" y2="328.5" stroke="#7070c8" stroke-width="1"/>
<line x1="471.5" y1="334.5" x2="475.0" y2="334.5" stroke="#7070c8" stroke-width="1"/>
<line x1="480.5" y1="331.7" x2="480.5" y2="340.1" stroke="#7070c8" stroke-width="1"/>
<line x1="477.0" y1="334.5" x2="480.5" y2="334.5" stroke="#7070c8" stroke-width="1"/>
<line x1="480.5" y1="338.5" x2="484.0" y2="338.5" stroke="#7070c8" stroke-width="1"/>
<line x1="490.5" y1="335.1" x2="490.5" y2="341.7" stroke="#7070c8" stroke-width="1"/>
<line x1="487.0" y1="338.5" x2="490.5" y2="338.5" stroke="#7070c8" stroke-width="1"/>
<line x1="490.5" y1="339.5" x2="494.0" y2="339.5" stroke="#7070c8" stroke-width="1"/>
<line x1="499.5" y1="336.7" x2="499.5" y2="342.9" stroke="#7070c8" stroke-width="1"/>
<line x1="496.0" y1="339.5" x2="499.5" y2="339.5" stroke="#7070c8" stroke-width="1"/>
<line x1="499.5" y1="340.5" x2="503.0" y2="340.5" stroke="#7070c8" stroke-width="1"/>
<line x1="509.5" y1="337.9" x2="509.5" y2="350.4" stroke="#7070c8" stroke-width="1"/>
<line x1="506.0" y1="340.5" x2="509.5" y2="340.5" stroke="#7070c8" stroke-width="1"/>
<line x1="509.5" y1="348.5" x2="513.0" y2="348.5" stroke="#7070c8" stroke-width="1"/>
<line x1="518.5" y1="345.4" x2="518.5" y2="350.4" stroke="#7070c8" stroke-width="1"/>
<line x1="515.0" y1="348.5" x2="518.5" y2="348.5" stroke="#7070c8" stroke-width="1"/>
<line x1="518.5" y1="348.5" x2="522.0" y2="348.5" stroke="#7070c8" stroke-width="1"/>
<line x1="527.5" y1="345.4" x2="527.5" y2="350.9" stroke="#7070c8" stroke-width="1"/>
<line x1="524.0" y1="348.5" x2="527.5" y2="348.5" stroke="#7070c8" stroke-width="1"/>
<line x1="527.5" y1="348.5" x2="531.0" y2="348.5" stroke="#7070c8" stroke-width="1"/>
<line x1="537.5" y1="345.9" x2="537.5" y2="353.2" stroke="#7070c8" stroke-width="1"/>
<line x1="534.0" y1="348.5" x2="537.5" y2="348.5" stroke="#7070c8" stroke-width="1"/>
<line x1="537.5" y1="351.5" x2="541.0" y2="351.5" stroke="#7070c8" stroke-width="1"/>
<line x1="546.5" y1="345.4" x2="546.5" y2="353.2" stroke="#7070c8" stroke-width="1"/>
<line x1="543.0" y1="351.5" x2="546.5" y2="351.5" stroke="#7070c8" stroke-width="1"/>
<line x1="546.5" y1="348.5" x2="550.0" y2="348.5" stroke="#7070c8" stroke-width="1"/>
<line x1="555.5" y1="345.4" x2="555.5" y2="358.9" stroke="#7070c8" stroke-width="1"/>
<line x1="552.0" y1="348.5" x2="555.5" y2="348.5" stroke="#7070c8" stroke-width="1"/>
<line x1="555.5" y1="356.5" x2="559.0" y2="356.5" stroke="#7070c8" stroke-width="1"/>
<line x1="565.5" y1="353.9" x2="565.5" y2="363.4" stroke="#7070c8" stroke-width="1"/>
<line x1="562.0" y1="356.5" x2="565.5" y2="356.5" stroke="#7070c8" stroke-width="1"/>
<line x1="565.5" y1="361.5" x2="569.0" y2="361.5" stroke="#7070c8" stroke-width="1"/>
<line x1="574.5" y1="358.0" x2="574.5" y2="363.4" stroke="#7070c8" stroke-width="1"/>
<line x1="571.0" y1="361.5" x2="574.5" y2="361.5" stroke="#7070c8" stroke-width="1"/>
<line x1="574.5" y1="360.5" x2="578.0" y2="360.5" stroke="#7070c8" stroke-width="1"/>
<line x1="583.5" y1="358.0" x2="583.5" y2="371.4" stroke="#7070c8" stroke-width="1"/>
<line x1="580.0" y1="360.5" x2="583.5" y2="360.5" stroke="#7070c8" stroke-width="1"/>
<line x1="583.5" y1="369.5" x2="587.0" y2="369.5" stroke="#7070c8" stroke-width="1"/>
<line x1="593.5" y1="360.7" x2="593.5" y2="371.4" stroke="#7070c8" stroke-width="1"/>
<line x1="590.0" y1="369.5" x2="593.5" y2="369.5" stroke="#7070c8" stroke-width="1"/>
<line x1="593.5" y1="363.5" x2="597.0" y2="363.5" stroke="#7070c8" stroke-width="1"/>
<line x1="602.5" y1="358.4" x2="602.5" y2="365.7" stroke="#7070c8" stroke-width="1"/>
<line x1="599.0" y1="363.5" x2="602.5" y2="363.5" stroke="#7070c8" stroke-width="1"/>
<line x1="602.5" y1="361.5" x2="606.0" y2="361.5" stroke="#7070c8" stroke-width="1"/>
<line x1="611.5" y1="358.4" x2="611.5" y2="364.1" stroke="#7070c8" stroke-width="1"/>
<line x1="608.0" y1="361.5" x2="611.5" y2="361.5" stroke="#7070c8" stroke-width="1"/>
<line x1="611.5" y1="362.5" x2="615.0" y2="362.5" stroke="#7070c8" stroke-width="1"/>
<line x1="621.5" y1="359.1" x2="621.5" y2="366.9" stroke="#7070c8" stroke-width="1"/>
<line x1="618.0" y1="362.5" x2="621.5" y2="362.5" stroke="#7070c8" stroke-width="1"/>
<line x1="621.5" y1="364.5" x2="625.0" y2="364.5" stroke="#7070c8" stroke-width="1"/>
</g>
</g>
<g shape-rendering="crispEdges">
<line x1="61" y1="381.5" x2="631" y2="381.5" stroke="#d8d8d8" stroke-width="1"/>
<line x1="61" y1="391.5" x2="631" y2="391.5" stroke="#d8d8d8" stroke-width="1"/>
<line x1="61" y1="400.5" x2="631" y2="400.5" stroke="#d8d8d8" stroke-width="1"/>
<line x1="61" y1="410.5" x2="631" y2="410.5" stroke="#d8d8d8" stroke-width="1"/>
<line x1="61" y1="419.5" x2="631" y2="419.5" stroke="#d8d8d8" stroke-width="1"/>
<line x1="247.5" y1="381" x2="247.5" y2="429" stroke="#d8d8d8" stroke-width="1"/>
<line x1="247.5" y1="429" x2="247.5" y2="435.5" stroke="#000" stroke-width="1"/>
<line x1="434.5" y1="381" x2="434.5" y2="429" stroke="#d8d8d8" stroke-width="1"/>
<line x1="434.5" y1="429" x2="434.5" y2="435.5" stroke="#000" stroke-width="1"/>
<line x1="620.5" y1="381" x2="620.5" y2="429" stroke="#d8d8d8" stroke-width="1"/>
<line x1="620.5" y1="429" x2="620.5" y2="435.5" stroke="#000" stroke-width="1"/>
<line x1="60.5" y1="381" x2="60.5" y2="435.5" stroke="#000" stroke-width="1"/>
<line x1="60" y1="429.5" x2="631" y2="429.5" stroke="#000" stroke-width="1"/>
</g>
<g shape-rendering="crispEdges">
<line x1="53" y1="381.5" x2="60" y2="381.5" stroke="#000" stroke-width="1"/>
<line x1="53" y1="391.5" x2="60" y2="391.5" stroke="#000" stroke-width="1"/>
<line x1="53" y1="400.5" x2="60" y2="400.5" stroke="#000" stroke-width="1"/>
<line x1="53" y1="410.5" x2="60" y2="410.5" stroke="#000" stroke-width="1"/>
<line x1="53" y1="419.5" x2="60" y2="419.5" stroke="#000" stroke-width="1"/>
<line x1="53" y1="429.5" x2="60" y2="429.5" stroke="#000" stroke-width="1"/>
</g>
<g font-family="'Liberation Sans', Arial, sans-serif" font-size="7.8" font-weight="bold" fill="#222" text-anchor="end" transform="translate(51.5,0) scale(0.86,1) translate(-51.5,0)">
<text x="51.5" y="383.2">100</text>
<text x="51.5" y="393.2">81</text>
<text x="51.5" y="402.2">61</text>
<text x="51.5" y="412.2">41</text>
<text x="51.5" y="421.2">21</text>
<text x="51.5" y="431.2">2</text>
</g>
<text font-family="'Liberation Sans', Arial, sans-serif" font-size="10.5" fill="#111" transform="translate(22.2,405.4) rotate(-90)" text-anchor="middle">STO</text>
<polyline points="60.1,422.5 69.4,424.1 78.8,424.8 88.1,423.0 97.5,420.7 106.8,417.2 116.2,412.7 125.5,409.2 134.8,407.4 144.2,406.5 153.5,406.3 162.9,404.7 172.2,402.9 181.5,401.3 190.9,400.6 200.2,397.8 209.6,395.5 218.9,392.1 228.3,389.8 237.6,388.2 246.9,386.9 256.3,385.3 265.6,384.6 275.0,383.7 284.3,383.2 293.7,382.5 303.0,384.6 312.3,387.6 321.7,391.4 331.0,394.0 340.4,395.5 349.7,395.5 359.0,396.0 368.4,397.1 377.7,395.5 387.1,393.3 396.4,394.4 405.8,395.1 415.1,395.5 424.4,395.1 433.8,393.3 443.1,391.4 452.5,391.4 461.8,391.0 471.1,393.3 480.5,397.8 489.8,403.5 499.2,408.8 508.5,413.8 517.9,417.7 527.2,420.7 536.5,423.4 545.9,425.2 555.2,426.4 564.6,427.0 573.9,428.0 583.3,428.4 592.6,428.2 601.9,427.0 611.3,426.6 620.6,428.0" fill="none" stroke="#b03838" stroke-width="1"/>
<polyline points="60.1,427.0 69.4,428.7 78.8,424.8 88.1,421.8 97.5,416.1 106.8,409.7 116.2,403.5 125.5,402.9 134.8,405.1 144.2,404.7 153.5,406.3 162.9,402.4 172.2,400.6 181.5,397.8 190.9,400.1 200.2,393.3 209.6,389.8 218.9,387.6 228.3,385.3 237.6,385.3 246.9,384.1 256.3,383.7 265.6,383.0 275.0,382.5 284.3,382.3 293.7,382.3 303.0,387.6 312.3,391.4 321.7,399.0 331.0,397.4 340.4,398.5 349.7,395.1 359.0,396.7 368.4,399.0 377.7,393.7 387.1,389.4 396.4,397.4 405.8,395.1 415.1,397.4 424.4,394.4 433.8,390.5 443.1,387.6 452.5,392.1 461.8,391.4 471.1,397.8 480.5,406.5 489.8,413.8 499.2,418.4 508.5,421.8 517.9,424.5 527.2,426.8 536.5,428.0 545.9,427.0 555.2,427.5 564.6,428.2 573.9,428.7 583.3,428.9 592.6,428.7 601.9,427.5 611.3,427.5 620.6,428.2" fill="none" stroke="#3030a8" stroke-width="1"/>
<g shape-rendering="crispEdges">
<line x1="61" y1="449.5" x2="631" y2="449.5" stroke="#d8d8d8" stroke-width="1"/>
<line x1="61" y1="472.5" x2="631" y2="472.5" stroke="#d8d8d8" stroke-width="1"/>
<line x1="247.5" y1="442" x2="247.5" y2="495" stroke="#d8d8d8" stroke-width="1"/>
<line x1="247.5" y1="495" x2="247.5" y2="501.5" stroke="#000" stroke-width="1"/>
<line x1="434.5" y1="442" x2="434.5" y2="495" stroke="#d8d8d8" stroke-width="1"/>
<line x1="434.5" y1="495" x2="434.5" y2="501.5" stroke="#000" stroke-width="1"/>
<line x1="620.5" y1="442" x2="620.5" y2="495" stroke="#d8d8d8" stroke-width="1"/>
<line x1="620.5" y1="495" x2="620.5" y2="501.5" stroke="#000" stroke-width="1"/>
<line x1="60.5" y1="442" x2="60.5" y2="501.5" stroke="#000" stroke-width="1"/>
<line x1="60" y1="495.5" x2="631" y2="495.5" stroke="#000" stroke-width="1"/>
</g>
<g shape-rendering="crispEdges">
<line x1="53" y1="449.5" x2="60" y2="449.5" stroke="#000" stroke-width="1"/>
<line x1="53" y1="472.5" x2="60" y2="472.5" stroke="#000" stroke-width="1"/>
<line x1="53" y1="495.5" x2="60" y2="495.5" stroke="#000" stroke-width="1"/>
</g>
<g font-family="'Liberation Sans', Arial, sans-serif" font-size="7.8" font-weight="bold" fill="#222" text-anchor="end" transform="translate(51.5,0) scale(1.0,1) translate(-51.5,0)">
<text x="51.5" y="451.2">0.2</text>
<text x="51.5" y="474.2">-0.3</text>
<text x="51.5" y="497.2">-0.8</text>
</g>
<text font-family="'Liberation Sans', Arial, sans-serif" font-size="10.5" fill="#111" transform="translate(22.2,468) rotate(-90)" text-anchor="middle">MACD</text>
<polyline points="60.1,462.8 69.4,464.7 78.8,465.8 88.1,466.7 97.5,467.4 106.8,466.9 116.2,466.3 125.5,465.6 134.8,465.1 144.2,465.1 153.5,464.7 162.9,464.4 172.2,464.0 181.5,463.5 190.9,463.3 200.2,462.8 209.6,462.1 218.9,461.0 228.3,459.9 237.6,458.3 246.9,456.7 256.3,454.8 265.6,453.0 275.0,451.4 284.3,449.8 293.7,448.4 303.0,447.5 312.3,446.8 321.7,446.4 331.0,446.4 340.4,446.6 349.7,446.4 359.0,446.4 368.4,446.4 377.7,445.9 387.1,445.5 396.4,445.5 405.8,445.7 415.1,445.9 424.4,445.9 433.8,445.9 443.1,445.9 452.5,446.4 461.8,446.8 471.1,446.8 480.5,447.5 489.8,448.5 499.2,450.3 508.5,452.3 517.9,454.5 527.2,456.6 536.5,458.6 545.9,460.5 555.2,462.4 564.6,465.8 573.9,469.3 583.3,472.8 592.6,476.2 601.9,479.2 611.3,481.7 620.6,484.3" fill="none" stroke="#b03838" stroke-width="1"/>
<polyline points="60.1,470.8 69.4,472.4 78.8,471.5 88.1,470.4 97.5,468.5 106.8,466.3 116.2,464.0 125.5,464.0 134.8,464.7 144.2,465.1 153.5,465.1 162.9,464.0 172.2,463.3 181.5,462.4 190.9,462.4 200.2,460.8 209.6,459.4 218.9,457.1 228.3,454.8 237.6,452.6 246.9,450.7 256.3,448.7 265.6,446.8 275.0,445.0 284.3,443.4 293.7,442.3 303.0,444.1 312.3,445.7 321.7,446.8 331.0,446.8 340.4,446.4 349.7,445.0 359.0,445.5 368.4,445.7 377.7,444.6 387.1,443.4 396.4,445.0 405.8,445.7 415.1,446.4 424.4,445.9 433.8,445.7 443.1,445.7 452.5,446.8 461.8,447.3 471.1,448.7 480.5,450.3 489.8,452.6 499.2,454.8 508.5,458.3 517.9,461.0 527.2,463.3 536.5,465.8 545.9,467.4 555.2,470.8 564.6,475.4 573.9,478.8 583.3,485.7 592.6,489.5 601.9,492.1 611.3,494.3 620.6,495.3" fill="none" stroke="#3030a8" stroke-width="1"/>
<text font-family="'Liberation Sans', Arial, sans-serif" font-size="13" fill="#b4b4b4" transform="translate(635.3,154.4) rotate(90)" text-anchor="middle">© 2012 Tech Trader ~ www.techtrader.ai</text>
</svg></body></html>
